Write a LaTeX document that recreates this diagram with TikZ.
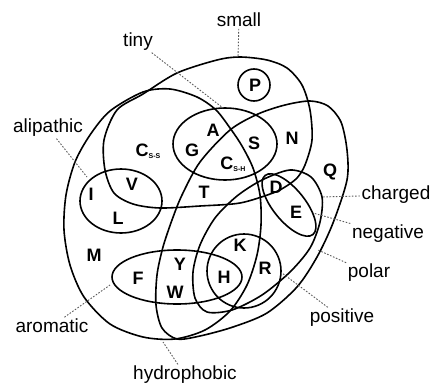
\documentclass[tikz,border=0pt]{standalone}
\usepackage{fontspec}
\setmainfont{Liberation Sans}
\usetikzlibrary{calc}

\newcommand{\cysub}[1]{C\raisebox{-1.5pt}{\fontsize{7}{7}\selectfont #1}}

\begin{document}
\begin{tikzpicture}[x=1pt,y=-1pt,line width=1.6pt,
  res/.style={font=\fontsize{18}{18}\selectfont\bfseries,inner sep=0pt},
  setname/.style={font=\fontsize{19}{19}\selectfont,inner sep=1pt},
  pointer/.style={line width=0.9pt,gray!70!black,dash pattern=on 1.6pt off 1.6pt}]
  \useasboundingbox (0,0) rectangle (436,388);
  % ===== big sets =====
  % hydrophobic
  \draw plot[smooth cycle] coordinates {(110,111) (90,135) (75,162) (66,195) (64,230)
    (70,265) (84,297) (110,324) (143,337) (175,339) (205,330) (230,311) (247,285)
    (257,255) (261,225) (260,195) (253,168) (242,146) (230,128) (216,110) (197,97)
    (170,89) (143,92)};
  % small
  \draw plot[smooth cycle] coordinates {(143,94) (177,73) (217,60) (240,57) (267,60)
    (287,68) (302,85) (310,110) (312,140) (305,165) (297,178) (285,187) (273,193)
    (240,203) (200,206) (160,208) (133,204) (114,193) (105,170) (104,140) (117,110)};
  % polar
  \draw plot[smooth cycle] coordinates {(310,101) (328,106) (341,122) (347,150)
    (347,180) (333,223) (317,257) (297,287) (267,313) (233,327) (200,336) (177,339)
    (162,328) (156,305) (157,275) (163,247) (172,220) (182,195) (200,162) (230,130)
    (258,114) (285,105)};
  % charged
  \draw plot[smooth cycle] coordinates {(322,197) (320,222) (310,248) (290,272)
    (262,295) (232,310) (207,312) (195,298) (193,272) (200,245) (215,218) (237,196)
    (262,180) (290,170) (311,177)};
  % ===== small sets =====
  \draw (225,144) ellipse [x radius=52pt, y radius=36pt];   % tiny
  \draw (121,201) ellipse [x radius=41pt, y radius=32pt];   % aliphatic
  \draw (177,277) ellipse [x radius=65pt, y radius=27pt];   % aromatic
  \draw (244,271) circle [radius=37pt];                     % positive
  \draw[rotate around={-51:(289,205)}] (289,205) ellipse [x radius=38pt, y radius=16pt]; % negative
  \draw (254,85) circle [radius=16pt];                      % proline
  % ===== residues =====
  \node[res] (P) at (255,85) {P};
  \node[res] (A) at (213,130) {A};
  \node[res] (G) at (192,150) {G};
  \node[res] (Css) at (148,151) {\cysub{S-S}};
  \node[res] (S) at (254,143) {S};
  \node[res] (Csh) at (233,164) {\cysub{S-H}};
  \node[res] (N) at (292,138) {N};
  \node[res] (Q) at (330,172) {Q};
  \node[res] (T) at (204,192) {T};
  \node[res] (D) at (276,187) {D};
  \node[res] (E) at (296,212) {E};
  \node[res] (I) at (91,194) {I};
  \node[res] (V) at (132,184) {V};
  \node[res] (L) at (118,218) {L};
  \node[res] (M) at (94,255) {M};
  \node[res] (F) at (138,278) {F};
  \node[res] (Y) at (180,264) {Y};
  \node[res] (W) at (175,292) {W};
  \node[res] (H) at (224,277) {H};
  \node[res] (K) at (240,245) {K};
  \node[res] (R) at (265,268) {R};
  % ===== set names =====
  \node[setname] (small) at (239,20) {small};
  \node[setname] (tiny) at (138,42) {tiny};
  \node[setname] (alip) at (48,128) {alipathic};
  \node[setname] (arom) at (52,326) {aromatic};
  \node[setname] (hydro) at (185,375) {hydrophobic};
  \node[setname] (charged) at (396,195) {charged};
  \node[setname] (neg) at (388,234) {negative};
  \node[setname] (polar) at (369,273) {polar};
  \node[setname] (pos) at (342,318) {positive};
  \coordinate (small-e) at (238,57);
  \coordinate (tiny-e) at (223,108);
  \coordinate (alip-e) at (87,177);
  \coordinate (arom-e) at (110,285);
  \coordinate (hydro-e) at (163,342);
  \coordinate (charged-e) at (322,197);
  \coordinate (neg-e) at (313,213);
  \coordinate (polar-e) at (318,250);
  \coordinate (pos-e) at (282,273);
  \foreach \n in {small,tiny,alip,arom,hydro,charged,neg,polar,pos}
    \draw[pointer] (\n) -- (\n-e);
\end{tikzpicture}
\end{document}
